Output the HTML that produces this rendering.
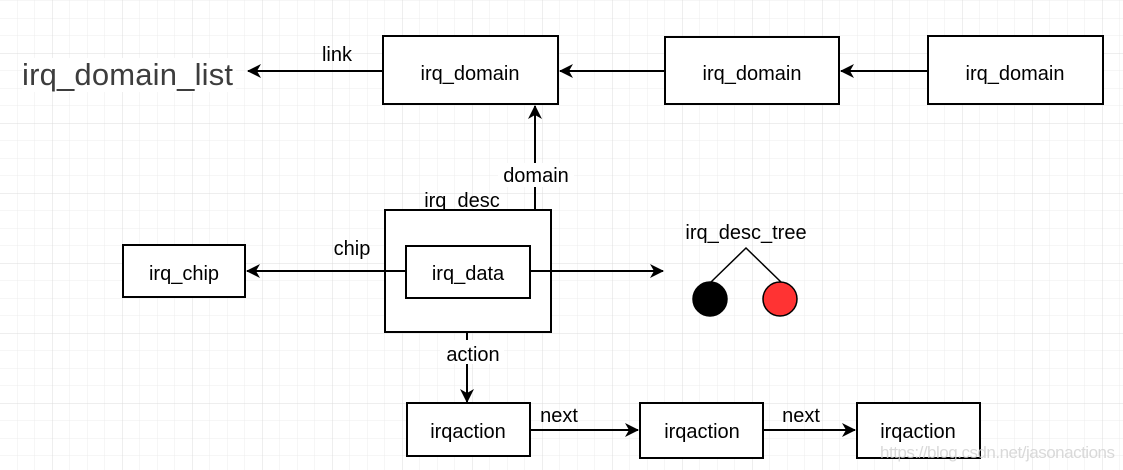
<!DOCTYPE html>
<html><head><meta charset="utf-8"><style>
html,body{margin:0;padding:0;background:#fff}
svg{display:block}
text{font-family:"Liberation Sans",Arial,sans-serif;font-size:20px;fill:#000}
</style></head><body>
<svg width="1123" height="470" xmlns="http://www.w3.org/2000/svg">
<defs>
<pattern id="g" x="17" y="0.5" width="17.5" height="17.5" patternUnits="userSpaceOnUse">
<path d="M17.5 0H0V17.5" fill="none" stroke="#ececec" stroke-width="1"/></pattern>
<pattern id="G" x="-18" y="-17" width="70" height="70" patternUnits="userSpaceOnUse">
<path d="M70 0H0V70" fill="none" stroke="#dcdcdc" stroke-width="1"/></pattern>
<marker id="a" markerWidth="16" markerHeight="14" refX="13" refY="7" orient="auto" markerUnits="userSpaceOnUse">
<path d="M0,0 L14,7 L0,14 L4,7 Z" fill="#000"/></marker>
</defs>
<rect width="1123" height="470" fill="url(#g)"/>
<rect width="1123" height="470" fill="url(#G)"/>
<g fill="#fff" stroke="#000" stroke-width="2">
<rect x="383" y="36" width="175" height="68"/>
<rect x="665" y="37" width="174" height="67"/>
<rect x="928" y="36" width="175" height="68"/>
<rect x="385" y="210" width="166" height="122"/>
<rect x="406" y="246" width="124" height="52"/>
<rect x="123" y="245" width="122" height="52"/>
<rect x="407" y="403" width="123" height="53"/>
<rect x="640" y="403" width="123" height="55"/>
<rect x="857" y="403" width="123" height="55"/>
</g>
<g stroke="#000" stroke-width="2" fill="none" marker-end="url(#a)">
<line x1="383" y1="71" x2="248" y2="71"/>
<line x1="665" y1="71" x2="560" y2="71"/>
<line x1="928" y1="71" x2="841" y2="71"/>
<line x1="535" y1="210" x2="535" y2="106"/>
<line x1="406" y1="271" x2="247" y2="271"/>
<line x1="530" y1="271" x2="663" y2="271"/>
<line x1="467" y1="332" x2="467" y2="402"/>
<line x1="530" y1="430" x2="638" y2="430"/>
<line x1="763" y1="430" x2="855" y2="430"/>
</g>
<rect x="22" y="58" width="214" height="34" fill="#fff"/>
<text x="22" y="85" textLength="211" style="font-size:31px;fill:#3d3d3d">irq_domain_list</text>
<rect x="498" y="163" width="76" height="24" fill="#fff"/>
<rect x="440" y="340" width="64" height="24" fill="#fff"/>
<g text-anchor="middle">
<text x="337" y="61">link</text>
<text x="470" y="80">irq_domain</text>
<text x="752" y="80">irq_domain</text>
<text x="1015" y="80">irq_domain</text>
<text x="536" y="182">domain</text>
<text x="462" y="207">irq_desc</text>
<text x="352" y="255">chip</text>
<text x="468" y="280">irq_data</text>
<text x="184" y="280">irq_chip</text>
<text x="746" y="239">irq_desc_tree</text>
<text x="473" y="361">action</text>
<text x="468" y="438">irqaction</text>
<text x="559" y="422">next</text>
<text x="702" y="438">irqaction</text>
<text x="801" y="422">next</text>
<text x="918" y="438">irqaction</text>
</g>
<path d="M711,282 L746,248 L781,282" stroke="#000" stroke-width="1.5" fill="none"/>
<circle cx="710" cy="299" r="17" fill="#000" stroke="#000" stroke-width="1.5"/>
<circle cx="780" cy="299" r="17" fill="#ff3333" stroke="#000" stroke-width="1.5"/>
<text x="880" y="458" textLength="235" style="font-size:17px;fill:#d0d0d0;opacity:0.8">https://blog.csdn.net/jasonactions</text>
</svg>
</body></html>
